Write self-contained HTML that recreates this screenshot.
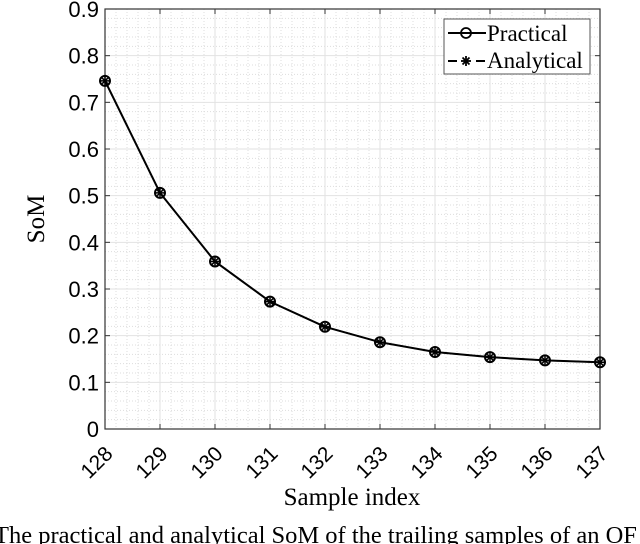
<!DOCTYPE html>
<html><head><meta charset="utf-8"><style>
body{margin:0;background:#fff;width:640px;height:544px;overflow:hidden}
svg{display:block}
</style></head><body>
<svg id="chart" width="640" height="544" font-family="Liberation Sans, sans-serif">
<g id="grid"></g>
<g id="axes"></g>
<g id="series"></g>
<text x="352" y="505" font-family="Liberation Serif, serif" font-size="25" text-anchor="middle">Sample index</text>
<text transform="translate(44,219) rotate(-90)" font-family="Liberation Serif, serif" font-size="25" text-anchor="middle">SoM</text>
<g>
<rect x="444" y="19" width="146" height="55" fill="#fff" stroke="#555" stroke-width="1"/>
<g>
<line x1="448" y1="33" x2="486" y2="33" stroke="#000" stroke-width="2"/>
<circle cx="466" cy="33" r="5" fill="none" stroke="#000" stroke-width="1.8"/>
<text x="487" y="41" font-family="Liberation Serif, serif" font-size="23">Practical</text>
</g>
<g>
<line x1="448" y1="61" x2="457" y2="61" stroke="#000" stroke-width="2"/>
<line x1="476" y1="61" x2="485" y2="61" stroke="#000" stroke-width="2"/>
<g stroke="#000" stroke-width="1.8">
<line x1="466" y1="56" x2="466" y2="66"/><line x1="461" y1="61" x2="471" y2="61"/>
<line x1="462.5" y1="57.5" x2="469.5" y2="64.5"/><line x1="462.5" y1="64.5" x2="469.5" y2="57.5"/>
</g>
<text x="487" y="68" font-family="Liberation Serif, serif" font-size="23">Analytical</text>
</g>
</g>
<text x="-6" y="543" font-family="Liberation Serif, serif" font-size="24.5">The practical and analytical SoM of the trailing samples of an OF</text>
</svg>
<script>
const categories=[128,129,130,131,132,133,134,135,136,137];
const practical=[0.746,0.506,0.359,0.273,0.219,0.186,0.165,0.154,0.147,0.143];
const analytical=[0.746,0.506,0.359,0.273,0.219,0.186,0.165,0.154,0.147,0.143];
const yTicks=[0,0.1,0.2,0.3,0.4,0.5,0.6,0.7,0.8,0.9];
const L=105,R=600,T=9,B=429;
const xs=i=>L+(i-categories[0])/(categories[categories.length-1]-categories[0])*(R-L);
const ys=v=>B-v/0.9*(B-T);
const NS='http://www.w3.org/2000/svg';
function mk(t,a,p){const e=document.createElementNS(NS,t);for(const k in a)e.setAttribute(k,a[k]);p.appendChild(e);return e;}
const grid=document.getElementById('grid'),axes=document.getElementById('axes'),ser=document.getElementById('series');
for(let i=0;i<categories.length-1;i++)for(let j=1;j<5;j++){const x=xs(categories[i]+j/5);mk('line',{x1:x,x2:x,y1:T,y2:B,stroke:'#ddd','stroke-dasharray':'1,2','stroke-width':1},grid);}
for(let v=0;v<0.9-1e-9;v+=0.1)for(let j=1;j<5;j++){const y=ys(v+j*0.02);mk('line',{x1:L,x2:R,y1:y,y2:y,stroke:'#ddd','stroke-dasharray':'1,2','stroke-width':1},grid);}
categories.forEach(c=>{const x=xs(c);mk('line',{x1:x,x2:x,y1:T,y2:B,stroke:'#e2e2e2'},grid);
mk('line',{x1:x,x2:x,y1:B,y2:B-5,stroke:'#333'},axes);mk('line',{x1:x,x2:x,y1:T,y2:T+5,stroke:'#333'},axes);
const t=mk('text',{x:x+9,y:B+26,'font-size':21,'text-anchor':'end',transform:`rotate(-45 ${x+9} ${B+26})`},axes);t.textContent=c;

});
yTicks.forEach(v=>{const y=ys(v);mk('line',{x1:L,x2:R,y1:y,y2:y,stroke:'#e2e2e2'},grid);
mk('line',{x1:L,x2:L+5,y1:y,y2:y,stroke:'#333'},axes);mk('line',{x1:R,x2:R-5,y1:y,y2:y,stroke:'#333'},axes);
const t=mk('text',{x:L-6,y:y+8,'font-size':22,'text-anchor':'end'},axes);t.textContent=v===0?'0':v.toFixed(1);

});
mk('rect',{x:L,y:T,width:R-L,height:B-T,fill:'none',stroke:'#333','stroke-width':1.2},axes);
const p1=mk('polyline',{points:practical.map((v,i)=>xs(categories[i])+','+ys(v)).join(' '),fill:'none',stroke:'#000','stroke-width':2},ser);


const p2=mk('polyline',{points:analytical.map((v,i)=>xs(categories[i])+','+ys(v)).join(' '),fill:'none',stroke:'#000','stroke-width':1.5,'stroke-dasharray':'6,5'},ser);


practical.forEach((v,i)=>{const c=mk('circle',{cx:xs(categories[i]),cy:ys(v),r:5,fill:'none',stroke:'#000','stroke-width':2},ser);

});
analytical.forEach((v,i)=>{const x=xs(categories[i]),y=ys(v);const g=mk('g',{},ser);


[0,45,90,135].forEach(a=>{const r=a*Math.PI/180;mk('line',{x1:x-4*Math.cos(r),y1:y-4*Math.sin(r),x2:x+4*Math.cos(r),y2:y+4*Math.sin(r),stroke:'#000','stroke-width':1.5},g);});});
</script>
</body></html>
